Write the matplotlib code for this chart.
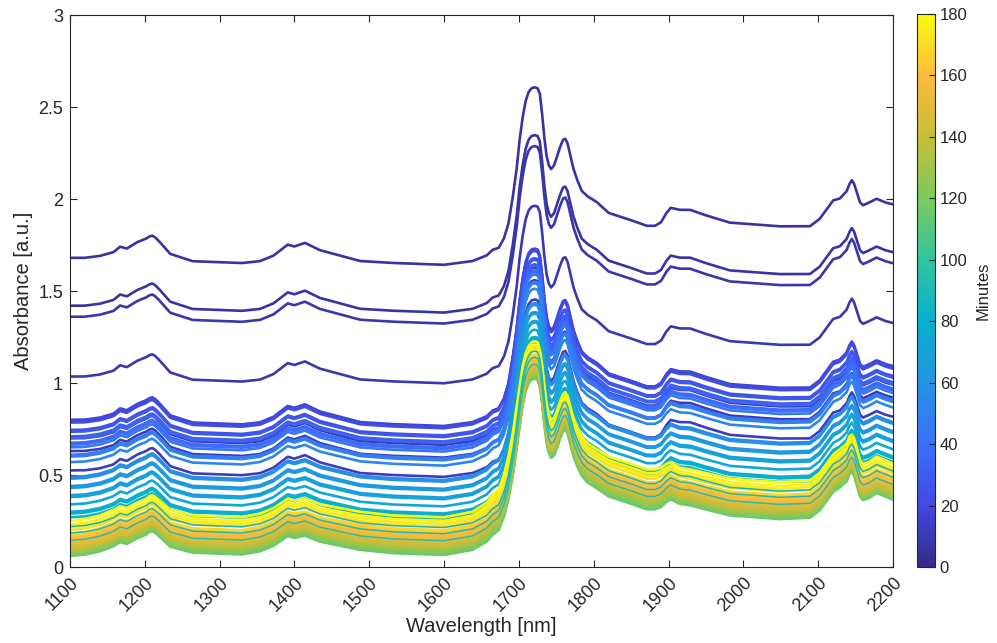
import numpy as np
import matplotlib
matplotlib.use("Agg")
import matplotlib.pyplot as plt
from matplotlib.colors import LinearSegmentedColormap, Normalize
from matplotlib.cm import ScalarMappable

plt.rcParams['font.family'] = ['Liberation Sans', 'DejaVu Sans']

# wavelength grid (nm)
wavelength = [1100, 1120, 1140, 1158, 1167, 1176, 1190, 1202, 1206, 1210, 1214, 1220,
              1234, 1264, 1330, 1354, 1372, 1391, 1400, 1414, 1434, 1488, 1532, 1600,
              1638, 1657, 1665, 1673, 1680, 1686, 1692, 1697, 1701, 1705, 1709, 1713,
              1717, 1721, 1725, 1728, 1731, 1734, 1737, 1740, 1743, 1747, 1751, 1755,
              1759, 1762, 1765, 1769, 1773, 1778, 1784, 1792, 1804, 1820, 1850, 1871,
              1882, 1890, 1897, 1903, 1915, 1929, 1950, 1982, 2049, 2089, 2102, 2120,
              2129, 2138, 2142, 2145, 2148, 2152, 2156, 2160, 2168, 2178, 2190, 2200]

# absorbance above the 1100 nm value, early spectrum (t ~ 0)
early_shape = [0, 0, 0.01, 0.03, 0.06, 0.05, 0.085, 0.105, 0.115, 0.12, 0.11, 0.085,
               0.02, -0.02, -0.03, -0.02, 0.01, 0.07, 0.06, 0.08, 0.04, -0.02, -0.03, -0.04,
               -0.02, 0.01, 0.04, 0.05, 0.10, 0.18, 0.33, 0.48, 0.64, 0.76, 0.85, 0.90,
               0.92, 0.925, 0.92, 0.89, 0.78, 0.65, 0.55, 0.50, 0.48, 0.50, 0.55, 0.60,
               0.64, 0.645, 0.62, 0.55, 0.48, 0.42, 0.36, 0.33, 0.30, 0.24, 0.20, 0.17,
               0.17, 0.19, 0.24, 0.27, 0.26, 0.26, 0.23, 0.19, 0.17, 0.17, 0.21, 0.31,
               0.32, 0.36, 0.40, 0.42, 0.40, 0.35, 0.30, 0.285, 0.30, 0.32, 0.30, 0.29]

# absorbance above the 1100 nm value, late spectrum (t ~ 180)
late_shape = [0, 0.01, 0.03, 0.06, 0.08, 0.07, 0.10, 0.12, 0.135, 0.14, 0.13, 0.11,
              0.06, 0.03, 0.02, 0.04, 0.07, 0.12, 0.11, 0.12, 0.09, 0.05, 0.03, 0.02,
              0.05, 0.10, 0.14, 0.17, 0.25, 0.35, 0.48, 0.62, 0.73, 0.84, 0.91, 0.95,
              0.97, 0.975, 0.97, 0.93, 0.85, 0.74, 0.64, 0.58, 0.55, 0.56, 0.60, 0.65,
              0.69, 0.70, 0.68, 0.62, 0.56, 0.51, 0.46, 0.42, 0.39, 0.35, 0.31, 0.28,
              0.28, 0.29, 0.31, 0.32, 0.29, 0.28, 0.26, 0.23, 0.21, 0.22, 0.26, 0.36,
              0.39, 0.42, 0.46, 0.47, 0.45, 0.39, 0.33, 0.31, 0.32, 0.35, 0.33, 0.31]

# sampling time (minutes) and absorbance at 1100 nm for each spectrum
times = [6, 7, 8, 9, 10, 11, 12,
         16, 19, 22, 25, 28, 31, 34, 37, 40, 43, 46, 49, 52,
         56, 59, 62, 65, 68, 71, 74, 77, 80, 83,
         114, 117, 120, 123, 126, 129, 132,
         136, 140, 144, 148, 152, 155, 158, 161, 164,
         168, 171, 174, 177, 180,
         86, 90, 94]
offsets = [1.68, 1.42, 1.36, 1.035, 0.70, 0.63, 0.525,
           0.80, 0.795, 0.785, 0.745, 0.735, 0.71, 0.70, 0.675, 0.665, 0.65, 0.61, 0.60, 0.57,
           0.49, 0.48, 0.44, 0.43, 0.39, 0.38, 0.34, 0.30, 0.29, 0.27,
           0.06, 0.065, 0.07, 0.075, 0.08, 0.085, 0.09,
           0.095, 0.10, 0.11, 0.12, 0.13, 0.14, 0.15, 0.16, 0.17,
           0.18, 0.20, 0.215, 0.23, 0.25,
           0.22, 0.185, 0.145]

parula = LinearSegmentedColormap.from_list('parula', [
    (0.208, 0.166, 0.529), (0.259, 0.283, 0.890), (0.230, 0.440, 0.985),
    (0.140, 0.580, 0.890), (0.030, 0.690, 0.810), (0.200, 0.765, 0.620),
    (0.480, 0.795, 0.370), (0.780, 0.745, 0.220), (0.990, 0.735, 0.235),
    (0.976, 0.984, 0.055)])
norm = Normalize(0, 180)

fig = plt.figure(figsize=(9.97, 6.43), dpi=100)
ax = fig.add_axes([70 / 997, 1 - 567 / 643, 823 / 997, 552 / 643])

early = np.array(early_shape)
late = np.array(late_shape)
for t, off in zip(times, offsets):
    w = min(t / 150, 1.0)
    y = off + (1 - w) * early + w * late
    lw = 1.1 if 85 < t < 100 else 1.9
    ax.plot(wavelength, y, color=parula(norm(t)), lw=lw, solid_joinstyle='round')

ax.set_xlim(1100, 2200)
ax.set_ylim(0, 3)
ax.set_xticks(range(1100, 2201, 100))
ax.set_yticks([0, 0.5, 1, 1.5, 2, 2.5, 3])
ax.set_yticklabels(['0', '0.5', '1', '1.5', '2', '2.5', '3'])
ax.tick_params(direction='in', top=True, right=True, labelsize=13,
               colors='#262626', length=5, width=0.8, pad=5)
plt.setp(ax.get_xticklabels(), rotation=45, ha='right', va='top', rotation_mode='anchor')
for s in ax.spines.values():
    s.set_color('#262626')
    s.set_linewidth(0.8)
ax.set_xlabel('Wavelength [nm]', fontsize=14.5, color='#262626', labelpad=2)
ax.set_ylabel('Absorbance [a.u.]', fontsize=14.5, color='#262626', labelpad=4)

cax = fig.add_axes([917 / 997, 1 - 567 / 643, 18 / 997, 553 / 643])
cb = fig.colorbar(ScalarMappable(norm=norm, cmap=parula), cax=cax)
cb.set_ticks(range(0, 181, 20))
cb.ax.tick_params(direction='in', labelsize=12, colors='#262626', length=4, width=0.8)
cb.outline.set_edgecolor('#262626')
cb.outline.set_linewidth(0.8)
cb.set_label('Minutes', fontsize=12, color='#262626', labelpad=6)

fig.savefig('out.png', dpi=100)
